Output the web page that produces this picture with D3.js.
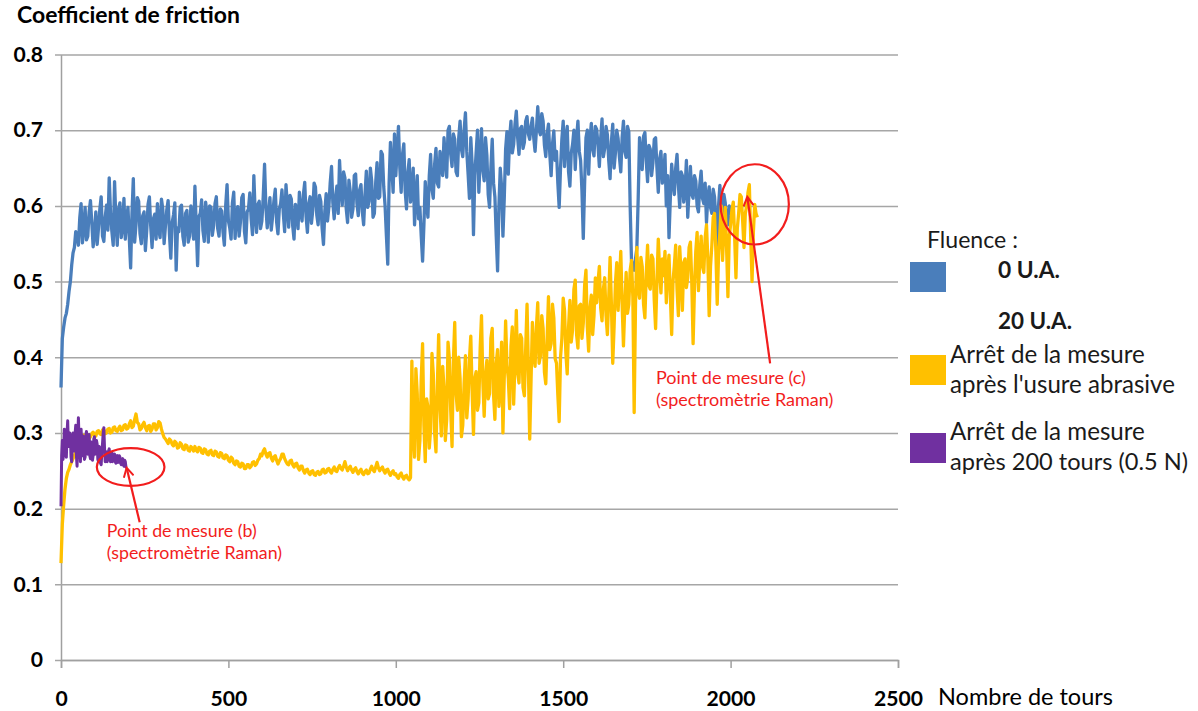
<!DOCTYPE html>
<html>
<head>
<meta charset="utf-8">
<script src="https://cdn.jsdelivr.net/npm/d3@7"></script>
<style>
  html, body { margin: 0; padding: 0; background: #fff; }
  svg { display: block; font-family: Lato, "Liberation Sans", sans-serif; }
</style>
</head>
<body>
<svg id="chart" width="1198" height="711"></svg>
<script>
// ---------------- DATA ----------------
const xTicks = [0, 500, 1000, 1500, 2000, 2500];
const yTicks = [0, 0.1, 0.2, 0.3, 0.4, 0.5, 0.6, 0.7, 0.8];

const titleY = "Coefficient de friction";
const titleX = "Nombre de tours";
const legendTitle = "Fluence :";
const legendLabels = [
  ["0 U.A."],
  ["20 U.A."],
  ["Arrêt de la mesure", "après l'usure abrasive"],
  ["Arrêt de la mesure", "après 200 tours (0.5 N)"]
];

// Series 1: 0 U.A. (sampled every 4 turns, 0 -> 2000)
const blueStep = 4;
const blueValues = [
  0.360,0.425,0.440,0.452,0.458,0.470,0.487,0.500,0.522,0.538,0.545,0.566,0.562,0.548,0.584,0.603,0.551,0.572,0.598,0.555,
  0.560,0.592,0.607,0.578,0.546,0.565,0.592,0.549,0.571,0.596,0.612,0.560,0.553,0.585,0.601,0.568,0.637,0.590,0.566,0.548,
  0.632,0.581,0.548,0.596,0.604,0.558,0.572,0.610,0.556,0.583,
  0.598,0.557,0.518,0.590,0.636,0.552,0.575,0.611,0.606,0.563,0.550,0.587,0.592,0.541,0.567,0.602,0.612,0.573,0.545,0.583,
  0.589,0.556,0.603,0.569,0.558,0.609,0.596,0.550,0.574,0.595,0.607,0.562,0.531,0.578,0.588,0.604,0.515,0.571,0.566,0.598,
  0.601,0.560,0.548,0.590,0.594,0.552,0.560,0.600,0.580,0.556,
  0.626,0.572,0.521,0.586,0.590,0.608,0.567,0.553,0.605,0.589,0.552,0.600,0.598,0.561,0.574,0.603,0.612,0.570,0.560,0.596,
  0.593,0.565,0.548,0.601,0.628,0.580,0.571,0.556,0.604,0.618,0.557,0.588,0.599,0.560,0.579,0.611,0.615,0.566,0.551,0.592,
  0.596,0.617,0.583,0.562,0.640,0.590,0.565,0.602,0.606,0.570,
  0.580,0.612,0.655,0.598,0.571,0.590,0.611,0.568,0.586,0.607,0.622,0.579,0.563,0.596,0.603,0.621,0.590,0.566,0.628,0.601,
  0.572,0.614,0.609,0.574,0.556,0.602,0.597,0.570,0.618,0.592,0.580,0.615,0.631,0.586,0.565,0.603,0.612,0.577,0.594,0.630,
  0.625,0.588,0.575,0.614,0.606,0.570,0.549,0.593,0.616,0.580,
  0.598,0.630,0.652,0.604,0.583,0.611,0.626,0.590,0.660,0.622,0.601,0.645,0.637,0.596,0.578,0.634,0.619,0.585,0.596,0.640,
  0.642,0.603,0.587,0.621,0.628,0.592,0.575,0.615,0.646,0.598,0.606,0.650,0.633,0.585,0.590,0.631,0.657,0.610,0.612,0.672,
  0.668,0.625,0.600,0.560,0.523,0.630,0.684,0.651,0.618,0.695,
  0.640,0.672,0.705,0.650,0.618,0.668,0.682,0.620,0.596,0.644,0.661,0.605,0.622,0.650,0.575,0.612,0.640,0.583,0.598,0.560,
  0.527,0.575,0.632,0.602,0.585,0.640,0.668,0.622,0.610,0.655,0.676,0.630,0.625,0.672,0.655,0.640,0.690,0.662,0.638,0.700,
  0.705,0.668,0.652,0.695,0.688,0.645,0.640,0.690,0.712,0.675,
  0.665,0.700,0.723,0.672,0.642,0.610,0.690,0.655,0.562,0.640,0.671,0.700,0.618,0.660,0.702,0.648,0.633,0.690,0.667,0.615,
  0.598,0.650,0.688,0.630,0.612,0.560,0.514,0.600,0.650,0.625,0.560,0.610,0.675,0.698,0.642,0.690,0.712,0.670,0.681,0.708,
  0.725,0.690,0.668,0.702,0.705,0.676,0.684,0.712,0.718,0.695,
  0.688,0.705,0.716,0.690,0.672,0.700,0.731,0.700,0.694,0.722,0.712,0.680,0.665,0.695,0.708,0.668,0.640,0.682,0.699,0.660,
  0.672,0.630,0.598,0.650,0.688,0.712,0.652,0.690,0.705,0.645,0.626,0.670,0.681,0.700,0.648,0.690,0.712,0.672,0.660,0.620,
  0.557,0.630,0.690,0.700,0.642,0.688,0.709,0.675,0.666,0.705,
  0.701,0.680,0.652,0.690,0.715,0.665,0.676,0.705,0.694,0.660,0.636,0.685,0.708,0.650,0.670,0.700,0.689,0.664,0.645,0.690,
  0.712,0.672,0.664,0.705,0.698,0.600,0.528,0.520,0.515,0.530,0.544,0.610,0.690,0.672,0.648,0.692,0.697,0.660,0.632,0.680,
  0.675,0.640,0.657,0.688,0.690,0.650,0.618,0.662,0.672,0.630,
  0.641,0.668,0.600,0.640,0.558,0.610,0.655,0.632,0.615,0.650,0.668,0.628,0.598,0.645,0.640,0.605,0.622,0.660,0.585,0.620,
  0.652,0.615,0.610,0.640,0.633,0.600,0.592,0.628,0.646,0.610,0.603,0.630,0.578,0.612,0.625,0.598,0.590,0.622,0.612,0.582,
  0.548,0.600,0.627,0.595,0.583,0.615,0.604,0.578,0.575,0.600,
  0.588
];

// Series 2: 20 U.A., stopped after abrasive wear (every 4 turns, 0 -> 2080)
const yellowStep = 4;
const yellowValues = [
  0.128,0.180,0.205,0.226,0.240,0.248,0.252,0.258,0.262,0.266,0.270,0.275,0.279,0.284,0.288,0.292,0.294,0.297,0.290,0.294,
  0.298,0.292,0.295,0.299,0.301,0.297,0.296,0.302,0.303,0.299,0.298,0.304,0.304,0.299,0.300,0.305,0.306,0.300,0.301,0.307,
  0.308,0.303,0.302,0.306,0.309,0.303,0.304,0.310,0.311,0.305,
  0.306,0.312,0.316,0.307,0.309,0.318,0.325,0.314,0.312,0.304,0.306,0.311,0.314,0.307,0.303,0.309,0.310,0.302,0.305,0.312,
  0.312,0.304,0.307,0.315,0.313,0.305,0.299,0.294,0.292,0.289,0.286,0.292,0.290,0.285,0.283,0.289,0.287,0.280,0.281,0.287,
  0.285,0.279,0.278,0.284,0.283,0.277,0.276,0.282,0.280,0.276,
  0.282,0.277,0.275,0.281,0.280,0.274,0.273,0.279,0.278,0.272,0.271,0.276,0.277,0.271,0.270,0.276,0.275,0.269,0.268,0.274,
  0.273,0.267,0.266,0.271,0.270,0.264,0.262,0.268,0.266,0.260,0.258,0.263,0.262,0.256,0.255,0.260,0.259,0.253,0.253,0.258,
  0.258,0.254,0.256,0.261,0.262,0.257,0.259,0.264,0.266,0.272,
  0.270,0.276,0.279,0.272,0.268,0.273,0.274,0.267,0.263,0.268,0.270,0.264,0.259,0.263,0.266,0.272,0.272,0.266,0.262,0.259,
  0.258,0.263,0.264,0.258,0.255,0.259,0.260,0.254,0.251,0.256,0.256,0.250,0.247,0.251,0.252,0.247,0.245,0.249,0.250,0.245,
  0.244,0.248,0.249,0.245,0.246,0.251,0.252,0.247,0.248,0.252,
  0.253,0.249,0.247,0.252,0.255,0.250,0.249,0.254,0.257,0.253,0.251,0.256,0.262,0.255,0.250,0.254,0.256,0.251,0.248,0.252,
  0.254,0.249,0.246,0.250,0.252,0.247,0.245,0.249,0.251,0.246,0.247,0.252,0.256,0.251,0.249,0.255,0.261,0.254,0.250,0.253,
  0.255,0.250,0.247,0.251,0.252,0.247,0.244,0.248,0.250,0.245,
  0.246,0.242,0.240,0.245,0.247,0.242,0.239,0.243,0.244,0.240,0.238,0.241,0.395,0.300,0.268,0.385,0.352,0.265,0.290,0.372,
  0.418,0.310,0.262,0.345,0.334,0.280,0.305,0.405,0.378,0.300,0.275,0.360,0.430,0.335,0.296,0.388,0.360,0.290,0.318,0.420,
  0.398,0.330,0.282,0.395,0.446,0.352,0.330,0.400,0.372,0.295,
  0.310,0.365,0.402,0.320,0.345,0.398,0.428,0.355,0.298,0.372,0.381,0.330,0.340,0.412,0.455,0.368,0.322,0.375,0.396,0.345,
  0.352,0.425,0.438,0.350,0.318,0.392,0.410,0.335,0.362,0.420,0.300,0.375,0.448,0.390,0.372,0.332,0.415,0.440,0.338,0.395,
  0.462,0.380,0.366,0.430,0.425,0.360,0.349,0.412,0.470,0.385,
  0.292,0.370,0.446,0.405,0.388,0.440,0.472,0.392,0.402,0.455,0.438,0.380,0.365,0.425,0.480,0.410,0.418,0.470,0.452,0.398,
  0.392,0.350,0.315,0.400,0.425,0.478,0.462,0.405,0.378,0.440,0.475,0.420,0.436,0.490,0.502,0.430,0.412,0.468,0.470,0.425,
  0.445,0.495,0.515,0.440,0.408,0.465,0.482,0.430,0.455,0.505,
  0.472,0.500,0.520,0.465,0.448,0.490,0.505,0.455,0.430,0.478,0.532,0.470,0.392,0.440,0.498,0.525,0.462,0.500,0.540,0.470,
  0.415,0.468,0.512,0.458,0.470,0.515,0.528,0.480,0.327,0.470,0.545,0.490,0.478,0.532,0.520,0.470,0.452,0.510,0.548,0.495,
  0.490,0.535,0.530,0.475,0.438,0.500,0.556,0.515,0.485,0.530,
  0.508,0.540,0.472,0.515,0.535,0.482,0.430,0.500,0.522,0.548,0.490,0.455,0.546,0.510,0.462,0.525,0.530,0.492,0.505,0.545,
  0.552,0.500,0.418,0.490,0.540,0.565,0.488,0.530,0.560,0.520,0.512,0.558,0.575,0.530,0.455,0.520,0.548,0.585,0.590,0.540,
  0.470,0.535,0.565,0.600,0.528,0.570,0.598,0.545,0.480,0.560,
  0.575,0.595,0.605,0.560,0.505,0.570,0.590,0.615,0.612,0.580,0.545,0.590,0.600,0.618,0.628,0.560,0.500,0.565,0.602,0.590,
  0.585
];

// Series 3: 20 U.A., stopped after 200 turns (every 2 turns, 0 -> 196)
const purpleStep = 2;
const purpleValues = [
  0.203,0.270,0.290,0.265,0.275,0.305,0.298,0.272,0.268,0.300,0.316,0.285,0.282,0.300,0.295,0.268,0.262,0.290,0.300,0.276,
  0.278,0.298,0.310,0.270,0.256,0.295,0.320,0.290,0.280,0.262,0.305,0.282,0.270,0.296,0.292,0.265,0.268,0.294,0.302,0.275,
  0.272,0.290,0.298,0.270,0.266,0.288,0.284,0.264,0.270,0.292,0.295,0.272,0.275,0.290,0.285,0.265,0.262,0.282,0.280,0.260,
  0.258,0.275,0.286,0.300,0.307,0.280,0.262,0.270,0.275,0.262,0.266,0.276,0.279,0.268,0.262,0.272,0.274,0.262,0.265,0.270,
  0.272,0.262,0.260,0.268,0.270,0.261,0.262,0.270,0.268,0.260,0.258,0.265,0.266,0.258,0.256,0.264,0.262,0.255,0.254
];

const seriesColors = ["#4A7EBB", "#FFC000", "#7030A0"];

// Annotations (in data units: turns, friction coefficient)
const annotations = [
  { label: ["Point de mesure (b)", "(spectromètrie Raman)"],
    ellipse: { cx: 208, cy: 0.255, rx: 101, ry: 0.025 },
    arrow: { x1: 235, y1: 0.182, x2: 196, y2: 0.254 },
    text: { x: 137, y1: 0.168, y2: 0.139 } },
  { label: ["Point de mesure (c)", "(spectromètrie Raman)"],
    ellipse: { cx: 2072, cy: 0.602, rx: 102, ry: 0.053 },
    arrow: { x1: 2118, y1: 0.392, x2: 2050, y2: 0.612 },
    text: { x: 1777, y1: 0.371, y2: 0.342 } }
];

// ---------------- CHART ----------------
const svg = d3.select("#chart");
const x = d3.scaleLinear().domain([0, 2500]).range([61, 898]);
const y = d3.scaleLinear().domain([0, 0.8]).range([660, 54.5]);

function fit(sel, target) {
  const len = sel.node().getComputedTextLength();
  const fs = parseFloat(sel.attr("font-size"));
  sel.attr("font-size", (fs * target / len).toFixed(2));
  return fs * target / len;
}

// Y axis with gridlines
const yAxis = svg.append("g").attr("transform", `translate(${x(0)},0)`)
  .call(d3.axisLeft(y).tickValues(yTicks).tickSizeInner(-(x(2500) - x(0))).tickSizeOuter(0)
    .tickPadding(18).tickFormat(d => d === 0 ? "0" : d3.format(".1f")(d)));
yAxis.select(".domain").attr("stroke", "#a0a0a0").attr("stroke-width", 1.5);
yAxis.selectAll(".tick line").attr("x1", -6).attr("stroke", "#a6a6a6").attr("stroke-width", 1.5);
yAxis.selectAll(".tick text").attr("fill", "#000").attr("font-weight", "bold")
  .attr("font-family", "Lato, 'Liberation Sans', sans-serif");

// X axis
const xAxis = svg.append("g").attr("transform", `translate(0,${y(0)})`)
  .call(d3.axisBottom(x).tickValues(xTicks).tickSize(8).tickPadding(23).tickFormat(d3.format("d")));
xAxis.select(".domain").attr("stroke", "#a0a0a0").attr("stroke-width", 1.5);
xAxis.selectAll(".tick line").attr("stroke", "#a0a0a0").attr("stroke-width", 1.5);
xAxis.selectAll(".tick text").attr("fill", "#000").attr("font-weight", "bold")
  .attr("font-family", "Lato, 'Liberation Sans', sans-serif");

// fit tick font size
const t2000 = xAxis.selectAll(".tick text").filter(d => d === 2000);
t2000.attr("font-size", 20);
const tickFs = fit(t2000, 49);
xAxis.selectAll(".tick text").attr("font-size", tickFs);
yAxis.selectAll(".tick text").attr("font-size", tickFs);

// Lines (series order: blue, yellow, purple on top)
const line = step => d3.line().x((d, i) => x(i * step)).y(d => y(d));
const widths = [3.3, 3.3, 3];
[[blueValues, blueStep], [yellowValues, yellowStep], [purpleValues, purpleStep]].forEach(([vals, step], k) => {
  svg.append("path").datum(vals)
    .attr("d", line(step))
    .attr("fill", "none")
    .attr("stroke", seriesColors[k])
    .attr("stroke-width", widths[k])
    .attr("stroke-linejoin", "round");
});

// Titles
const tY = svg.append("text").attr("x", 17).attr("y", 23)
  .attr("font-weight", "bold").attr("font-size", 18).attr("fill", "#000").text(titleY);
fit(tY, 223);
const tX = svg.append("text").attr("x", 938).attr("y", 699).attr("dominant-baseline", "middle")
  .attr("font-size", 20).attr("fill", "#000").text(titleX);
fit(tX, 175);

// Legend
const lg = svg.append("g");
const lt = lg.append("text").attr("x", 927).attr("y", 242).attr("dominant-baseline", "middle")
  .attr("font-size", 20).attr("fill", "#1a1a1a").text(legendTitle);
fit(lt, 91);

const swatches = [
  { color: seriesColors[0], y: 262 },
  { color: seriesColors[1], y: 355 },
  { color: seriesColors[2], y: 433 }
];
swatches.forEach(s => lg.append("rect").attr("x", 910).attr("y", s.y).attr("width", 36).attr("height", 30).attr("fill", s.color));

const l0 = lg.append("text").attr("x", 998).attr("y", 272).attr("dominant-baseline", "middle")
  .attr("font-weight", "bold").attr("font-size", 20).attr("fill", "#1a1a1a").text(legendLabels[0][0]);
fit(l0, 62);
const l1 = lg.append("text").attr("x", 998).attr("y", 323).attr("dominant-baseline", "middle")
  .attr("font-weight", "bold").attr("font-size", 20).attr("fill", "#1a1a1a").text(legendLabels[1][0]);
fit(l1, 74);

const legRows = [
  { text: legendLabels[2][0], y: 357, w: 195 },
  { text: legendLabels[2][1], y: 387, w: 225 },
  { text: legendLabels[3][0], y: 434, w: 195 },
  { text: legendLabels[3][1], y: 464, w: 238 }
];
legRows.forEach(r => {
  const t = lg.append("text").attr("x", 950).attr("y", r.y).attr("dominant-baseline", "middle")
    .attr("font-size", 20).attr("fill", "#1a1a1a").text(r.text);
  fit(t, r.w);
});

// Annotations
const red = "#F21D1D";
svg.append("defs").append("marker").attr("id", "arrow")
  .attr("viewBox", "0 0 12 12").attr("refX", 10).attr("refY", 6)
  .attr("markerWidth", 12).attr("markerHeight", 12).attr("markerUnits", "userSpaceOnUse")
  .attr("orient", "auto")
  .append("path").attr("d", "M1,1 L10,6 L1,11").attr("fill", "none").attr("stroke", red).attr("stroke-width", 2);

annotations.forEach(a => {
  svg.append("ellipse")
    .attr("cx", x(a.ellipse.cx)).attr("cy", y(a.ellipse.cy))
    .attr("rx", x(a.ellipse.rx) - x(0)).attr("ry", y(0) - y(a.ellipse.ry))
    .attr("fill", "none").attr("stroke", red).attr("stroke-width", 2.2);
  svg.append("line")
    .attr("x1", x(a.arrow.x1)).attr("y1", y(a.arrow.y1))
    .attr("x2", x(a.arrow.x2)).attr("y2", y(a.arrow.y2))
    .attr("stroke", red).attr("stroke-width", 2.2).attr("marker-end", "url(#arrow)");
  const t1 = svg.append("text").attr("x", x(a.text.x)).attr("y", y(a.text.y1))
    .attr("dominant-baseline", "middle").attr("font-size", 16).attr("fill", red).text(a.label[0]);
  const fs = fit(t1, 150);
  svg.append("text").attr("x", x(a.text.x)).attr("y", y(a.text.y2))
    .attr("dominant-baseline", "middle").attr("font-size", fs).attr("fill", red).text(a.label[1]);
});
</script>
</body>
</html>
